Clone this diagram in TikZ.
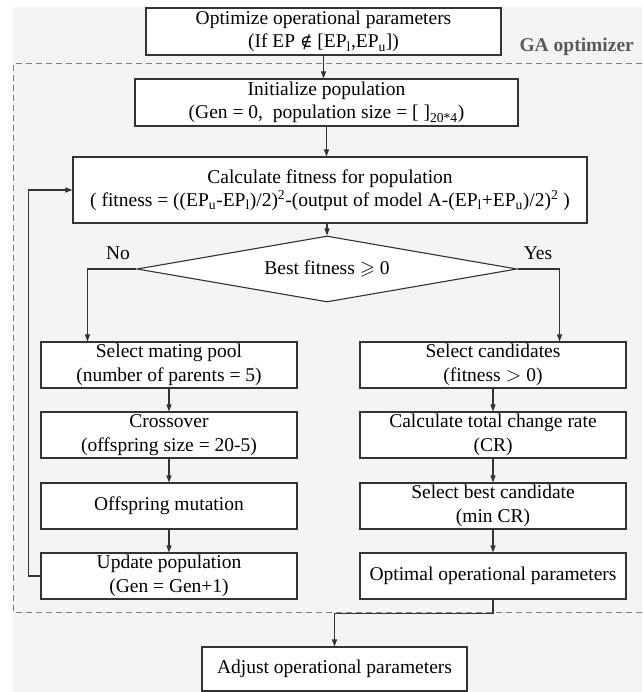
\documentclass[tikz,border=0pt]{standalone}
\usepackage{amssymb}
\usepackage{fontspec}
\setmainfont{Liberation Serif}
\newfontfamily\symfnt{DejaVu Serif}
\usetikzlibrary{arrows.meta,shapes.geometric}
\definecolor{bggray}{HTML}{F4F4F4}
\definecolor{linecol}{HTML}{333333}
\definecolor{dashcol}{HTML}{808080}
\definecolor{labgray}{HTML}{5A5A5A}
\begin{document}
\begin{tikzpicture}[x=1pt,y=-1pt,
  font=\fontsize{19.5}{23.5}\selectfont,
  box/.style={draw=linecol, line width=1.1pt, fill=white, inner sep=0pt, align=center},
  decision/.style={draw=linecol, line width=1.1pt, fill=white, diamond, aspect=5.76, inner sep=0pt,
    minimum width=380pt, minimum height=66pt},
  conn/.style={draw=linecol, line width=1.1pt, -{Triangle[length=7pt,width=5pt]}},
  gadash/.style={draw=dashcol, line width=1pt, dash pattern=on 6pt off 4pt},
  lbl/.style={inner sep=0pt}]
\useasboundingbox (0,0) rectangle (642,692);
\fill[white] (0,0) rectangle (642,692);
\fill[bggray] (13,7) rectangle (642,692);
% GA optimizer region
\draw[gadash] (642,64) -- (13,64) -- (13,612) -- (642,612);
\node[lbl, anchor=east, text=labgray, font=\fontsize{19.5}{23.5}\selectfont\bfseries] (ga) at (634,47) {GA optimizer};
% nodes
\node[box, minimum width=355pt, minimum height=47pt] (top) at (323.5,31.5)
  {Optimize operational parameters\\(If EP {\symfnt\fontsize{17}{23.5}\selectfont ∉} [EP\textsubscript{l},EP\textsubscript{u}])};
\node[box, minimum width=383pt, minimum height=47pt] (init) at (326.5,102.5)
  {Initialize population\\(Gen = 0,\ \ population size = [ ]\textsubscript{20*4})};
\node[box, minimum width=514pt, minimum height=66pt] (calc) at (330,190)
  {Calculate fitness for population\\( fitness = ((EP\textsubscript{u}-EP\textsubscript{l})/2)\textsuperscript{2}-(output of model A-(EP\textsubscript{l}+EP\textsubscript{u})/2)\textsuperscript{2} )};
\node[decision] (dec) at (327,269) {Best fitness $\geqslant$ 0};
\node[lbl] (no) at (118,253) {No};
\node[lbl] (yes) at (538,253) {Yes};
% left column
\node[box, minimum width=256pt, minimum height=46pt] (pool) at (169,365)
  {Select mating pool\\(number of parents = 5)};
\node[box, minimum width=256pt, minimum height=46pt] (cross) at (169,435)
  {Crossover\\(offspring size = 20-5)};
\node[box, minimum width=256pt, minimum height=46pt] (mut) at (169,506)
  {Offspring mutation};
\node[box, minimum width=256pt, minimum height=46pt] (upd) at (169,576)
  {Update population\\(Gen = Gen+1)};
% right column
\node[box, minimum width=266pt, minimum height=46pt] (cand) at (493,365)
  {Select candidates\\(fitness $>$ 0)};
\node[box, minimum width=266pt, minimum height=46pt] (cr) at (493,435)
  {Calculate total change rate\\(CR)};
\node[box, minimum width=266pt, minimum height=46pt] (best) at (493,506)
  {Select best candidate\\(min CR)};
\node[box, minimum width=266pt, minimum height=46pt] (opt) at (493,576)
  {Optimal operational parameters};
% final
\node[box, minimum width=265pt, minimum height=44pt] (adj) at (334.5,669)
  {Adjust operational parameters};
% connectors
\draw[conn] (top.south) -- (top.south |- init.north);
\draw[conn] (init.south) -- (init.south |- calc.north);
\draw[conn] (calc.south -| dec.north) -- (dec.north);
\draw[conn] (dec.west) -| ([xshift=47pt]pool.north west);
\draw[conn] (dec.east) -| ([xshift=-67pt]cand.north east);
\draw[conn] (pool) -- (cross);
\draw[conn] (cross) -- (mut);
\draw[conn] (mut) -- (upd);
\draw[conn] (cand) -- (cr);
\draw[conn] (cr) -- (best);
\draw[conn] (best) -- (opt);
\draw[conn] (upd.west) -- ++(-12,0) |- (calc.west);
\draw[conn] (opt.south) -- ++(0,14) -| (adj.north);
\end{tikzpicture}
\end{document}
